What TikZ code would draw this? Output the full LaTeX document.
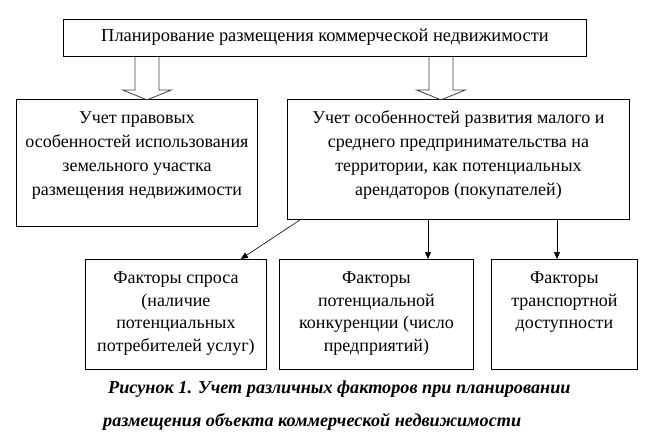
\documentclass[tikz,border=0pt]{standalone}
\usepackage{fontspec}
\setmainfont{Liberation Serif}
\newfontfamily\ruserif{Liberation Serif}
\usetikzlibrary{arrows.meta,calc}
\begin{document}
\begin{tikzpicture}[x=1pt,y=-1pt,
  box/.style={draw=black,line width=0.9pt,rectangle,inner sep=0pt,anchor=north west},
  txt/.style={align=center,inner sep=0pt,anchor=north,font=\ruserif\fontsize{18}{24}\selectfont},
  txtb/.style={align=center,inner sep=0pt,anchor=north,font=\ruserif\fontsize{18}{22.5}\selectfont},
  hollow/.style={draw=black!75,line width=0.8pt},
  arr/.style={draw=black,line width=0.6pt,-{Triangle[length=7pt,width=6pt]}},
  captxt/.style={inner sep=0pt,anchor=west,font=\ruserif\fontsize{18.2}{20}\selectfont\bfseries\itshape}]
\useasboundingbox (0,0) rectangle (653,442);
% top
\node[box,minimum width=523,minimum height=37] (top) at (63,19) {};
\node[txt,anchor=center,font=\ruserif\fontsize{18.4}{24}\selectfont] (toptxt) at ([yshift=1]top.center) {Планирование размещения коммерческой недвижимости};
% upper boxes
\node[box,minimum width=241,minimum height=127] (lb) at (16,99) {};
\node[txt] (lbt) at ([yshift=-12.5]lb.north) {Учет правовых\\особенностей использования\\земельного участка\\размещения недвижимости};
\node[box,minimum width=342,minimum height=120] (rb) at (287,99) {};
\node[txt] (rbt) at ([yshift=-11.5]rb.north) {Учет особенностей развития малого и\\среднего предпринимательства на\\территории, как потенциальных\\арендаторов (покупателей)};
% bottom boxes
\node[box,minimum width=181,minimum height=110] (b1) at (85,259) {};
\node[txtb] (b1t) at ([yshift=-13]b1.north) {Факторы спроса\\(наличие\\потенциальных\\потребителей услуг)};
\node[box,minimum width=194,minimum height=110] (b2) at (279,259) {};
\node[txtb] (b2t) at ([yshift=-13]b2.north) {Факторы\\потенциальной\\конкуренции (число\\предприятий)};
\node[box,minimum width=146,minimum height=110] (b3) at (491,259) {};
\node[txtb] (b3t) at ([yshift=-13]b3.north) {Факторы\\транспортной\\доступности};
% hollow arrows
\coordinate (h1) at ([xshift=84]top.south west);
\coordinate (h2) at ([xshift=378]top.south west);
\foreach \c in {h1,h2}{
  \draw[hollow] ($(\c)+(-12,0)$) -- ($(\c)+(-12,33)$) -- ($(\c)+(-24.5,33)$) -- ($(\c)+(0,43)$) -- ($(\c)+(24.5,33)$) -- ($(\c)+(12,33)$) -- ($(\c)+(12,0)$);
}
% small arrows
\draw[arr] ([xshift=13]rb.south west) -- ([xshift=-26]b1.north east);
\draw[arr] ([xshift=141]rb.south west) -- ([xshift=141]rb.south west |- b2.north);
\draw[arr] ([xshift=270]rb.south west) -- ([xshift=270]rb.south west |- b3.north);
% caption
\node[captxt] (c1) at (108,389) {Рисунок 1. Учет различных факторов при планировании};
\node[captxt] (c2) at (103,422) {размещения объекта коммерческой недвижимости};
\end{tikzpicture}
\end{document}
